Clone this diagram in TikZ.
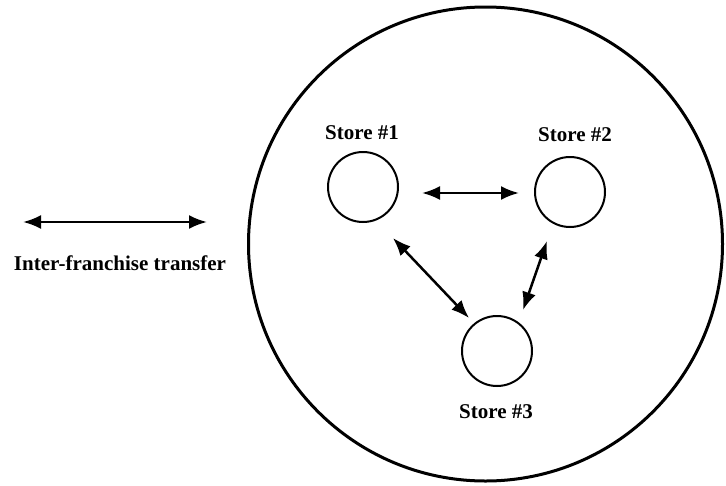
\documentclass[tikz,border=0pt]{standalone}
\usepackage{fontspec}
\setmainfont{Liberation Serif}
\usetikzlibrary{arrows.meta}
\begin{document}
\begin{tikzpicture}[x=1pt,y=-1pt,
  store/.style={draw,circle,line width=2pt,minimum size=70pt,inner sep=0pt},
  lbl/.style={font=\fontsize{21}{24}\selectfont\bfseries,inner sep=0pt},
  xfer/.style={line width=2.5pt,{Latex[length=18pt,width=14pt]}-{Latex[length=18pt,width=14pt]}}]
\useasboundingbox (0,0) rectangle (726,485);
\node[draw,circle,line width=3pt,minimum size=474pt,inner sep=0pt] (region) at (485.5,244) {};
\node[store] (s1) at (363,187) {};
\node[store] (s2) at (570,192) {};
\node[store] (s3) at (497,351) {};
\node[lbl] (l1) at (362,133) {Store \#1};
\node[lbl] (l2) at (575,135) {Store \#2};
\node[lbl] (l3) at (496,412) {Store \#3};
\draw[xfer] ([xshift=59pt,yshift=-6pt]s1.center) -- ([xshift=-51pt,yshift=-1pt]s2.center);
\draw[xfer] ([xshift=30pt,yshift=-51pt]s1.center) -- ([xshift=-28pt,yshift=33pt]s3.center);
\draw[xfer] ([xshift=-23pt,yshift=-49pt]s2.center) -- ([xshift=26pt,yshift=41pt]s3.center);
\coordinate (la) at (23,222);
\coordinate (lb) at (207,222);
\draw[xfer] (la) -- (lb);
\node[lbl] (lt) at (120,263) {Inter-franchise transfer};
\end{tikzpicture}
\end{document}
